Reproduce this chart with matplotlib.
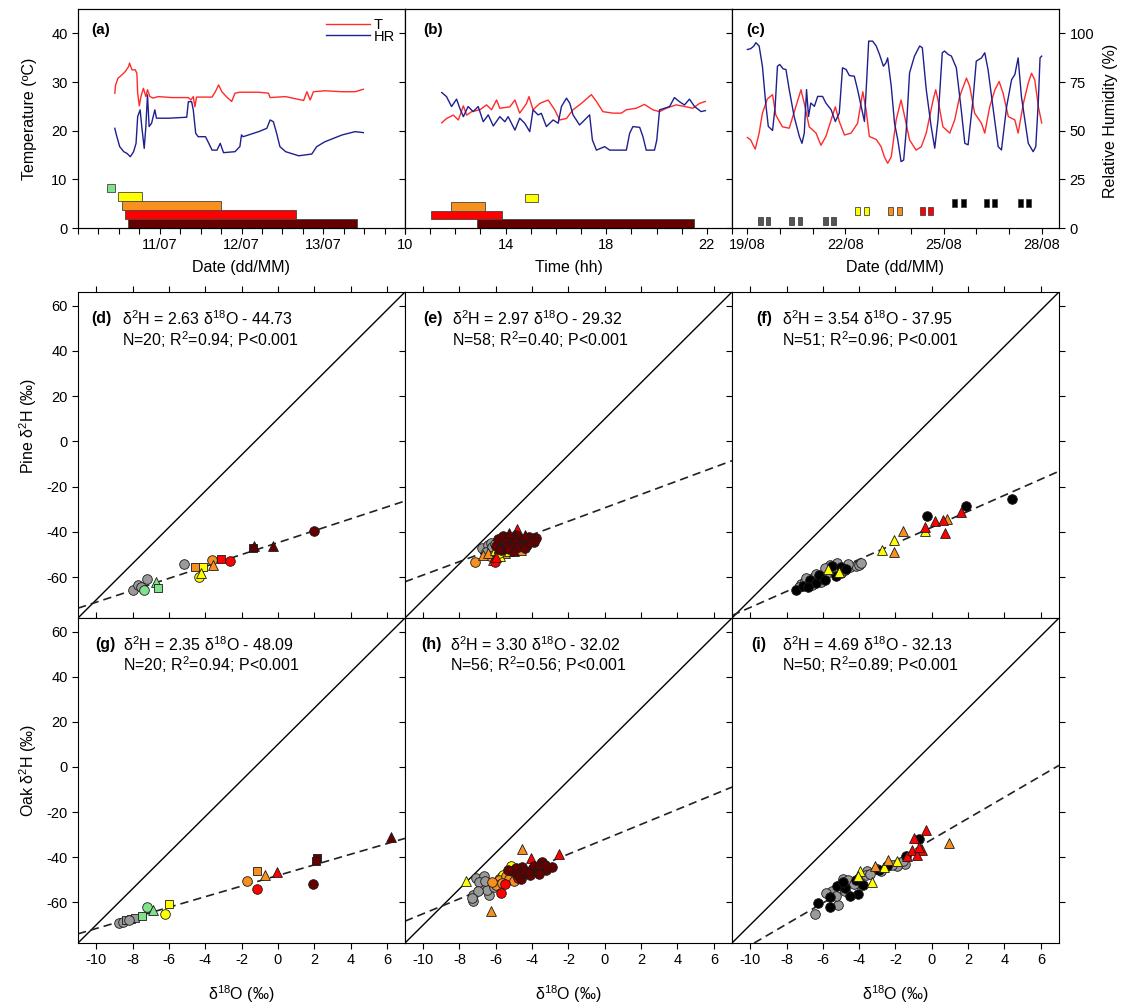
import numpy as np
import matplotlib
matplotlib.use("Agg")
import matplotlib.pyplot as plt
from matplotlib.lines import Line2D
from matplotlib.ticker import FixedLocator, MultipleLocator

plt.rcParams['font.family'] = ['Liberation Sans', 'DejaVu Sans']
plt.rcParams['mathtext.fontset'] = 'custom'
plt.rcParams['mathtext.rm'] = 'Liberation Sans'
plt.rcParams['mathtext.it'] = 'Liberation Sans:italic'
plt.rcParams['mathtext.bf'] = 'Liberation Sans:bold'
plt.rcParams['axes.linewidth'] = 0.8
plt.rcParams['axes.unicode_minus'] = False

# ---------------- (a) July campaign: day of month ----------------
a_t_day = [10.45, 10.46, 10.49, 10.54, 10.58, 10.62, 10.63, 10.66, 10.70, 10.72,
           10.73, 10.75, 10.77, 10.80, 10.83, 10.85, 10.88, 10.92, 10.98, 11.15,
           11.35, 11.38, 11.41, 11.43, 11.45, 11.64, 11.68, 11.72, 11.76, 11.82,
           11.88, 11.92, 11.98, 12.21, 12.33, 12.35, 12.54, 12.62, 12.76, 12.80,
           12.84, 12.88, 13.02, 13.23, 13.39, 13.49]
a_t_val = [27.7, 29.4, 30.8, 31.5, 32.2, 33.2, 33.9, 32.5, 32.5, 31.8,
           27.7, 25.1, 27.0, 28.7, 27.0, 28.4, 27.0, 26.7, 27.0, 26.8,
           26.8, 26.3, 27.0, 24.9, 26.9, 26.9, 28.0, 29.4, 28.0, 26.9,
           26.0, 27.7, 27.9, 27.9, 27.7, 26.8, 27.0, 26.7, 26.2, 28.0,
           26.3, 28.0, 28.2, 28.0, 28.0, 28.5]
a_hr_day = [10.45, 10.47, 10.51, 10.56, 10.60, 10.64, 10.68, 10.71, 10.73, 10.76,
            10.78, 10.81, 10.83, 10.85, 10.87, 10.90, 10.94, 10.96, 11.11, 11.33,
            11.35, 11.39, 11.41, 11.44, 11.47, 11.56, 11.60, 11.64, 11.70, 11.74,
            11.78, 11.92, 11.98, 12.00, 12.02, 12.21, 12.31, 12.35, 12.39, 12.43,
            12.47, 12.54, 12.70, 12.86, 12.92, 13.02, 13.23, 13.39, 13.49]
a_hr_val = [51.2, 47.8, 41.8, 39.2, 38.3, 36.6, 39.2, 43.5, 57.2, 60.7,
            52.1, 40.9, 52.1, 68.4, 52.1, 53.8, 60.7, 56.4, 56.4, 56.9,
            64.9, 64.9, 60.7, 48.6, 46.9, 46.9, 43.5, 40.0, 40.0, 43.5,
            38.7, 39.2, 41.8, 47.8, 46.9, 49.5, 51.2, 55.5, 54.6, 48.6,
            41.8, 39.2, 37.1, 38.0, 41.8, 44.3, 47.8, 49.5, 49.0]
a_bar_start = [10.61, 10.58, 10.54, 10.49, 10.35]
a_bar_end = [13.41, 12.67, 11.75, 10.78, 10.45]
a_bar_grp = ['darkred', 'red', 'orange', 'yellow', 'green']

# ---------------- (b) daily cycle: hour ----------------
b_t_hour = [11.46, 11.65, 11.92, 12.12, 12.32, 12.45, 12.65, 12.98, 13.24, 13.44,
            13.64, 13.77, 14.17, 14.37, 14.56, 14.83, 14.93, 15.09, 15.36, 15.69,
            15.95, 16.15, 16.42, 16.68, 17.01, 17.41, 17.61, 17.87, 18.27, 18.60,
            18.80, 19.19, 19.52, 19.85, 20.12, 20.38, 20.78, 21.18, 21.44, 21.71,
            21.94]
b_t_val = [21.6, 22.5, 23.2, 22.2, 25.1, 23.2, 23.9, 24.3, 25.3, 24.3,
           26.3, 24.6, 24.9, 26.3, 23.6, 25.6, 27.0, 24.3, 25.6, 26.3,
           24.3, 22.2, 22.5, 24.3, 25.6, 27.4, 26.0, 23.9, 23.6, 23.6,
           24.3, 24.6, 25.4, 24.3, 23.9, 24.6, 25.3, 24.9, 24.6, 25.6,
           26.0]
b_hr_hour = [11.46, 11.65, 11.85, 12.05, 12.18, 12.32, 12.51, 12.71, 12.91, 13.11,
             13.31, 13.51, 13.77, 13.97, 14.10, 14.37, 14.56, 14.76, 14.96, 15.09,
             15.29, 15.42, 15.62, 15.89, 16.09, 16.22, 16.42, 16.55, 16.68, 16.94,
             17.14, 17.34, 17.45, 17.61, 17.94, 18.14, 18.80, 18.93, 19.06, 19.33,
             19.46, 19.59, 19.92, 20.01, 20.12, 20.32, 20.52, 20.71, 20.91, 21.11,
             21.31, 21.51, 21.77, 21.94]
b_hr_val = [69.6, 67.5, 62.4, 66.2, 61.5, 57.2, 62.4, 59.8, 62.4, 54.6,
            58.1, 52.4, 57.2, 54.6, 57.2, 50.3, 56.4, 53.8, 49.5, 60.7,
            58.1, 58.9, 52.1, 55.5, 53.8, 62.4, 66.7, 64.1, 58.1, 52.9,
            55.5, 58.1, 45.2, 40.0, 41.8, 40.0, 40.0, 48.6, 52.1, 51.7,
            46.9, 40.0, 40.0, 45.2, 60.7, 61.5, 62.4, 67.0, 64.9, 63.2,
            66.2, 62.4, 59.8, 60.3]
b_bar_start = [12.85, 11.02, 11.83, 14.76]
b_bar_end = [21.48, 13.86, 13.17, 15.29]
b_bar_grp = ['darkred', 'red', 'orange', 'yellow']

# ---------------- (c) August campaign: day of month ----------------
c_t_day = [19.00, 19.10, 19.24, 19.36, 19.46, 19.61, 19.77, 19.87, 20.07, 20.28,
           20.48, 20.64, 20.74, 20.89, 21.10, 21.25, 21.40, 21.56, 21.69, 21.81,
           21.97, 22.17, 22.37, 22.53, 22.63, 22.73, 22.94, 23.09, 23.19, 23.29,
           23.40, 23.55, 23.70, 23.81, 23.96, 24.16, 24.32, 24.47, 24.68, 24.76,
           24.83, 24.98, 25.19, 25.34, 25.49, 25.70, 25.80, 25.95, 26.16, 26.26,
           26.41, 26.57, 26.70, 26.82, 26.98, 27.18, 27.28, 27.44, 27.59, 27.69,
           27.79, 27.90, 28.00]
c_t_val = [18.6, 18.1, 16.2, 19.5, 23.6, 26.5, 27.4, 23.2, 20.8, 20.5,
           24.9, 28.4, 25.6, 20.8, 19.5, 17.0, 18.8, 22.2, 24.9, 21.9,
           19.1, 19.5, 21.5, 28.0, 24.3, 18.8, 18.2, 16.7, 14.6, 13.3,
           14.6, 22.2, 26.3, 22.9, 18.1, 16.0, 16.7, 19.5, 26.3, 28.4,
           26.3, 20.8, 19.5, 22.2, 27.0, 30.8, 29.1, 23.6, 21.5, 19.5,
           24.9, 28.4, 30.1, 27.7, 22.9, 22.2, 19.5, 25.6, 29.8, 31.8,
           30.4, 24.9, 21.6]
c_hr_day = [19.00, 19.10, 19.20, 19.26, 19.36, 19.46, 19.56, 19.64, 19.77, 19.85,
            19.92, 19.99, 20.09, 20.18, 20.28, 20.43, 20.59, 20.67, 20.74, 20.81,
            20.87, 20.94, 21.05, 21.15, 21.30, 21.40, 21.56, 21.69, 21.81, 21.91,
            22.02, 22.12, 22.27, 22.37, 22.48, 22.58, 22.65, 22.71, 22.83, 22.94,
            23.04, 23.16, 23.24, 23.29, 23.40, 23.50, 23.60, 23.70, 23.78, 23.86,
            23.96, 24.11, 24.27, 24.35, 24.47, 24.62, 24.73, 24.83, 24.96, 25.03,
            25.14, 25.24, 25.39, 25.54, 25.65, 25.75, 25.90, 26.00, 26.16, 26.26,
            26.36, 26.52, 26.67, 26.77, 26.93, 27.08, 27.18, 27.28, 27.38, 27.59,
            27.74, 27.82, 27.90, 27.95, 28.00]
c_hr_val = [91.7, 92.1, 93.5, 95.2, 93.5, 83.1, 64.2, 52.2, 50.1, 62.5,
            83.1, 84.0, 81.8, 81.4, 71.1, 57.3, 47.0, 43.5, 48.7, 71.1,
            57.3, 64.2, 62.5, 67.6, 67.6, 64.2, 60.8, 54.7, 59.0, 82.3,
            81.4, 78.3, 78.0, 71.1, 62.5, 54.7, 76.2, 96.0, 96.0, 93.5,
            89.2, 83.1, 84.9, 87.4, 72.8, 53.9, 45.3, 34.1, 34.9, 50.4,
            79.7, 88.3, 93.5, 92.6, 71.1, 52.2, 41.0, 55.6, 90.0, 90.9,
            89.2, 88.3, 82.3, 60.8, 43.5, 42.7, 65.9, 85.7, 87.4, 90.0,
            81.4, 60.8, 41.8, 40.1, 62.5, 76.2, 78.8, 87.4, 67.6, 43.5,
            39.2, 41.8, 65.9, 87.4, 88.3]
c_sq_day = [19.39, 19.63, 20.36, 20.61, 21.40, 21.63, 22.37, 22.63, 23.38, 23.65,
            24.35, 24.59, 25.34, 25.60, 26.31, 26.57, 27.35, 27.59]
c_sq_grp = ['dkgrey'] * 6 + ['yellow'] * 2 + ['orange'] * 2 + ['red'] * 2 + ['black'] * 6

# ---------------- regressions ----------------
panel_tag = ['(d)', '(e)', '(f)', '(g)', '(h)', '(i)']
fit_slope = [2.63, 2.97, 3.54, 2.35, 3.30, 4.69]
fit_icpt = [-44.73, -29.32, -37.95, -48.09, -32.02, -32.13]
fit_n = [20, 58, 51, 20, 56, 50]
fit_r2 = ['0.94', '0.40', '0.96', '0.94', '0.56', '0.89']
gmwl_slope = 8
gmwl_icpt = 10

# ---------------- (d) pine, July ----------------
d_x = [-7.95, -7.71, -7.53, -7.22, -5.15, -7.34, -6.70, -6.58, -4.54, -4.10,
       -4.32, -4.23, -3.63, -3.55, -3.13, -2.64, -1.36, -1.30, -0.29, 2.00]
d_y = [-65.8, -63.3, -64.4, -60.7, -54.1, -65.6, -62.2, -64.7, -55.3, -55.6,
       -59.7, -58.2, -52.6, -54.8, -51.9, -52.9, -47.2, -46.0, -46.0, -39.4]
d_grp = ['grey'] * 5 + ['green'] * 3 + ['orange', 'yellow', 'yellow', 'yellow',
                                          'orange', 'orange', 'red', 'red',
                                          'darkred', 'darkred', 'darkred', 'darkred']
d_shape = ['circle'] * 5 + ['circle', 'triangle', 'square', 'square', 'square',
                            'circle', 'triangle', 'circle', 'triangle', 'square',
                            'circle', 'square', 'triangle', 'triangle', 'circle']

# ---------------- (e) pine, daily ----------------
e_x = [-6.75, -6.45, -6.25, -6.55, -6.20, -6.05,
       -7.14, -6.30, -5.80, -5.20, -4.95,
       -6.70, -6.15, -5.50, -5.05, -4.60, -5.90, -6.45,
       -6.05, -5.60, -5.30, -5.75,
       -5.80, -5.45,
       -6.05, -5.70, -5.20, -4.90, -5.45,
       -6.00, -5.60, -4.86, -4.50, -5.30,
       -6.00, -5.70, -5.40, -5.10, -4.80, -4.50, -4.30, -4.00, -3.80, -5.90,
       -5.30, -4.70, -4.20, -5.60, -4.90, -4.40, -3.90,
       -5.50, -4.95, -4.40, -5.80, -5.00, -4.10, -5.25]
e_y = [-47.0, -45.8, -44.8, -48.8, -46.8, -45.5,
       -53.4, -50.5, -48.3, -47.5, -45.2,
       -50.2, -52.3, -49.5, -46.0, -48.0, -44.5, -49.5,
       -47.8, -46.5, -48.5, -50.5,
       -49.2, -44.2,
       -53.4, -45.0, -43.5, -45.5, -47.2,
       -51.0, -43.0, -38.7, -44.0, -41.8,
       -46.0, -48.0, -45.5, -44.0, -46.5, -44.5, -45.8, -43.0, -42.8, -43.0,
       -47.5, -42.5, -42.0, -41.8, -41.2, -47.0, -44.5,
       -42.0, -42.5, -41.5, -47.0, -48.5, -44.0, -40.5]
e_grp = (['grey'] * 6 + ['orange'] * 5 + ['orange'] * 7 + ['yellow'] * 4 + ['yellow'] * 2
         + ['red'] * 5 + ['red'] * 5 + ['darkred'] * 17 + ['darkred'] * 7)
e_shape = (['circle'] * 6 + ['circle'] * 5 + ['triangle'] * 7 + ['triangle'] * 4 + ['circle'] * 2
           + ['circle'] * 5 + ['triangle'] * 5 + ['circle'] * 17 + ['triangle'] * 7)

# ---------------- (f) pine, August ----------------
f_x = [-7.20, -7.00, -6.80, -6.50, -6.30, -6.00, -5.80, -5.50, -5.30, -5.00,
       -4.80, -4.50, -4.20, -4.00, -3.90, -6.90, -6.10, -5.60, -5.90, -6.60,
       -5.20, -4.60, -6.40, -7.30,
       -7.49, -7.10, -6.70, -6.40, -6.20, -5.90, -5.50, -5.30, -5.00, -4.70, -6.80,
       -5.74, -5.10, -2.72, -2.07, -0.37,
       -2.07, -1.61, 0.86,
       -0.37, 0.18, 0.59, 0.73, 1.60,
       -0.24, 1.87, 4.44]
f_y = [-63.0, -61.5, -62.5, -60.0, -61.0, -59.5, -58.5, -57.0, -56.0, -58.0,
       -57.0, -55.5, -55.0, -54.5, -53.5, -60.5, -62.0, -54.5, -56.0, -63.5,
       -53.8, -54.0, -58.5, -64.5,
       -65.6, -64.0, -61.0, -62.5, -59.0, -61.0, -55.0, -59.5, -55.5, -56.5, -64.5,
       -56.3, -57.8, -47.9, -43.5, -39.4,
       -49.0, -39.7, -34.3,
       -37.7, -35.3, -34.7, -40.6, -31.3,
       -32.8, -28.4, -25.5]
f_grp = ['grey'] * 24 + ['black'] * 11 + ['yellow'] * 5 + ['orange'] * 3 + ['red'] * 5 + ['black'] * 3
f_shape = ['circle'] * 35 + ['triangle'] * 13 + ['circle'] * 3

# ---------------- (g) oak, July ----------------
g_x = [-8.75, -8.55, -8.35, -8.08, -7.84, -8.20, -7.47, -7.22, -6.85, -6.19,
       -5.97, -1.67, -1.16, -0.70, -1.12, -0.02, 2.14, 2.09, 1.96, 6.21]
g_y = [-69.2, -68.5, -68.0, -67.4, -66.9, -67.8, -66.2, -62.2, -63.2, -65.0,
       -60.6, -50.7, -46.3, -47.7, -54.1, -46.6, -40.4, -41.8, -51.7, -31.2]
g_grp = ['grey'] * 6 + ['green'] * 3 + ['yellow'] * 2 + ['orange'] * 3 + ['red'] * 2 + ['darkred'] * 4
g_shape = ['circle', 'circle', 'square', 'square', 'square', 'circle',
           'square', 'circle', 'triangle', 'circle', 'square',
           'circle', 'square', 'triangle', 'circle', 'triangle',
           'square', 'square', 'circle', 'triangle']

# ---------------- (h) oak, daily ----------------
h_x = [-7.10, -6.65, -7.25, -7.25, -6.37, -6.83, -6.28, -6.90, -6.50, -6.10, -7.00, -6.60, -7.30,
       -7.66, -5.46, -5.90,
       -5.18, -5.60,
       -6.28, -4.54, -5.70, -5.20, -6.00,
       -5.82, -5.46, -4.91, -6.00, -5.30, -5.00, -5.65, -4.70, -6.20,
       -5.73, -5.50, -4.80,
       -4.08, -2.53,
       -4.54, -4.27, -3.81, -3.44, -2.93, -3.26, -4.73, -4.10, -3.90, -4.40,
       -5.10, -3.60, -4.90, -5.35, -4.60, -3.30,
       -4.20, -3.70, -4.80]
h_y = [-49.2, -48.5, -56.6, -59.6, -56.6, -53.7, -51.4, -51.0, -54.5, -53.0, -55.0, -50.5, -58.0,
       -50.7, -46.3, -49.0,
       -43.8, -47.8,
       -64.0, -36.4, -50.8, -48.0, -50.0,
       -50.0, -48.5, -47.7, -52.2, -49.5, -50.5, -51.5, -46.5, -50.8,
       -55.9, -52.0, -49.0,
       -40.4, -38.4,
       -44.4, -47.0, -46.3, -42.3, -44.5, -45.6, -48.5, -48.0, -44.0, -46.0,
       -46.0, -47.5, -44.8, -45.5, -49.5, -43.5,
       -45.5, -43.0, -47.0]
h_grp = (['grey'] * 13 + ['yellow'] * 3 + ['yellow'] * 2 + ['orange'] * 5 + ['orange'] * 9
         + ['red'] * 3 + ['red'] * 2 + ['darkred'] * 16 + ['darkred'] * 3)
h_shape = (['circle'] * 13 + ['triangle'] * 3 + ['circle'] * 2 + ['triangle'] * 5 + ['circle'] * 9
           + ['circle'] * 3 + ['triangle'] * 2 + ['circle'] * 16 + ['triangle'] * 3)

# ---------------- (i) oak, August ----------------
i_x = [-6.44, -5.15, -5.52, -4.88, -4.14, -3.59, -1.47, -1.93, -5.80, -5.00,
       -4.60, -4.30, -4.00, -3.60, -3.00, -2.80, -2.20, -1.60, -4.80, -5.30, -3.40,
       -6.26, -5.61, -5.24, -4.78, -4.05, -4.51, -2.48, -0.73, -4.20, -3.80,
       -5.60, -4.90, -2.90, -1.40,
       -3.95, -4.05, -3.31, -2.66, -1.93,
       -3.12, -2.39, 0.93,
       -1.00, -0.30, -1.37, -1.10, -0.54, -0.82, -0.70]
i_y = [-65.0, -61.0, -54.8, -49.7, -51.4, -46.3, -42.9, -44.1, -56.0, -52.0,
       -50.0, -52.0, -49.0, -48.0, -45.0, -46.0, -43.5, -41.5, -55.0, -57.0, -47.5,
       -60.3, -62.1, -52.6, -53.7, -56.2, -57.3, -44.1, -32.0, -50.0, -52.5,
       -57.5, -51.0, -45.5, -39.5,
       -46.3, -48.5, -51.1, -44.4, -41.8,
       -43.8, -41.2, -33.7,
       -31.5, -27.8, -39.6, -36.7, -36.7, -38.9, -35.5]
i_grp = ['grey'] * 21 + ['black'] * 14 + ['yellow'] * 5 + ['orange'] * 3 + ['red'] * 7
i_shape = ['circle'] * 35 + ['triangle'] * 15

# ---------------- styles ----------------
palette = {'grey': '#9a9a9a', 'dkgrey': '#555555', 'green': '#80e38c', 'yellow': '#ffff00',
           'orange': '#f7901e', 'red': '#ff0000', 'darkred': '#640000', 'black': '#000000'}
shapes = {'circle': 'o', 'square': 's', 'triangle': '^'}
marker_size = {'circle': 48, 'square': 40, 'triangle': 50}
t_color = '#ff2a2a'
hr_color = '#1f1f8f'

W, H = 1121, 1008


def box(x0, y0, x1, y1):
    return [x0 / W, 1 - y1 / H, (x1 - x0) / W, (y1 - y0) / H]


def ticks(ax, **kw):
    ax.tick_params(which='both', direction='out', length=4, width=0.8, labelsize=10.5, **kw)


fig = plt.figure(figsize=(11.21, 10.08), dpi=100)
cols = [78, 405, 732, 1059]

# ---------------- top row ----------------
top_axes = []
for k in range(3):
    ax = fig.add_axes(box(cols[k], 9, cols[k + 1], 228))
    ax2 = ax.twinx()
    ax.set_ylim(0, 45)
    ax2.set_ylim(0, 112.5)
    ax.yaxis.set_major_locator(FixedLocator([0, 10, 20, 30, 40]))
    ax2.yaxis.set_major_locator(FixedLocator([0, 25, 50, 75, 100]))
    ticks(ax)
    ticks(ax2)
    if k > 0:
        ax.tick_params(labelleft=False)
    if k < 2:
        ax2.tick_params(labelright=False)
    top_axes.append((ax, ax2))

bar_h = 1.87

# (a)
ax, ax2 = top_axes[0]
ax.set_xlim(10, 14)
ax.set_xticks([11, 12, 13], ['11/07', '12/07', '13/07'])
ax.xaxis.set_minor_locator(MultipleLocator(0.25))
row_a = {'darkred': 0, 'red': 1, 'orange': 2, 'yellow': 3, 'green': 3.92}
for s, e, g in zip(a_bar_start, a_bar_end, a_bar_grp):
    ax.bar(s, bar_h if g != 'green' else 1.8, width=e - s, bottom=row_a[g] * bar_h, align='edge',
           color=palette[g], edgecolor='#444444', linewidth=0.6, zorder=2)
ax.plot(a_t_day, a_t_val, color=t_color, lw=1.0)
ax2.plot(a_hr_day, a_hr_val, color=hr_color, lw=1.0)
ax.set_ylabel('Temperature (ºC)', fontsize=11.5)
ax.yaxis.set_label_coords(-0.125, 0.5)
ax.set_xlabel('Date (dd/MM)', fontsize=11.5)
ax.xaxis.set_label_coords(0.5, -0.145)
ax.text(0.04, 0.905, '(a)', transform=ax.transAxes, fontsize=11, fontweight='bold', va='center')
handles = [Line2D([], [], color=t_color, lw=1.0), Line2D([], [], color=hr_color, lw=1.0)]
ax2.legend(handles, ['T', 'HR'], loc='upper right', frameon=False, fontsize=10.5,
           handlelength=3.0, handletextpad=0.3, labelspacing=-0.15,
           bbox_to_anchor=(1.01, 1.02))

# (b)
ax, ax2 = top_axes[1]
ax.set_xlim(10, 23)
ax.set_xticks([10, 14, 18, 22], ['10', '14', '18', '22'])
ax.xaxis.set_minor_locator(MultipleLocator(1))
row_b = {'darkred': 0, 'red': 1, 'orange': 2, 'yellow': 3}
bh_b = 1.76
for s, e, g in zip(b_bar_start, b_bar_end, b_bar_grp):
    ax.bar(s, bh_b, width=e - s, bottom=row_b[g] * bh_b, align='edge',
           color=palette[g], edgecolor='#444444', linewidth=0.6, zorder=2)
ax.plot(b_t_hour, b_t_val, color=t_color, lw=1.0)
ax2.plot(b_hr_hour, b_hr_val, color=hr_color, lw=1.0)
ax.set_xlabel('Time (hh)', fontsize=11.5)
ax.xaxis.set_label_coords(0.5, -0.145)
ax.text(0.055, 0.905, '(b)', transform=ax.transAxes, fontsize=11, fontweight='bold', va='center')

# (c)
ax, ax2 = top_axes[2]
ax.set_xlim(18.53, 28.53)
ax.set_xticks([19, 22, 25, 28], ['19/08', '22/08', '25/08', '28/08'])
ax.xaxis.set_minor_locator(MultipleLocator(1))
row_c = {'dkgrey': 0.55, 'yellow': 2.6, 'orange': 2.6, 'red': 2.6, 'black': 4.33}
ax.bar(c_sq_day, 1.72, width=0.15, bottom=[row_c[g] for g in c_sq_grp],
       color=[palette[g] for g in c_sq_grp], edgecolor='#444444', linewidth=0.6, zorder=2)
ax.plot(c_t_day, c_t_val, color=t_color, lw=1.0)
ax2.plot(c_hr_day, c_hr_val, color=hr_color, lw=1.0)
ax.set_xlabel('Date (dd/MM)', fontsize=11.5)
ax.xaxis.set_label_coords(0.5, -0.145)
ax2.set_ylabel('Relative Humidity (%)', fontsize=11.5)
ax2.yaxis.set_label_coords(1.135, 0.49)
ax.text(0.045, 0.905, '(c)', transform=ax.transAxes, fontsize=11, fontweight='bold', va='center')

# ---------------- scatter panels ----------------
sc_data = [(d_x, d_y, d_grp, d_shape), (e_x, e_y, e_grp, e_shape), (f_x, f_y, f_grp, f_shape),
           (g_x, g_y, g_grp, g_shape), (h_x, h_y, h_grp, h_shape), (i_x, i_y, i_grp, i_shape)]
tag_x = [0.042, 0.056, 0.075, 0.052, 0.051, 0.060]
eq_x = [0.134, 0.143, 0.152, 0.139, 0.138, 0.152]
rows = [(292, 618), (618, 943)]

for n in range(6):
    r, c = divmod(n, 3)
    ax = fig.add_axes(box(cols[c], rows[r][0], cols[c + 1], rows[r][1]))
    ax.set_xlim(-11, 7)
    ax.set_ylim(-78, 66)
    ax.xaxis.set_major_locator(FixedLocator(list(range(-10, 7, 2))))
    ax.yaxis.set_major_locator(FixedLocator(list(range(-60, 61, 20))))
    ticks(ax, top=True, right=True)
    ax.tick_params(labelleft=(c == 0), labelbottom=(r == 1))

    ax.axline((0, gmwl_icpt), slope=gmwl_slope, color='black', lw=1.0, zorder=1)
    ax.axline((0, fit_icpt[n]), slope=fit_slope[n], color='#222222', lw=1.2,
              dashes=(5, 3), zorder=1)

    xs, ys, gs, ss = sc_data[n]
    for x, y, g, s in zip(xs, ys, gs, ss):
        ax.scatter(x, y, s=marker_size[s], marker=shapes[s], c=palette[g],
                   edgecolors='#1a1a1a', linewidths=0.6, zorder=3)

    ax.text(tag_x[n], 0.918, panel_tag[n], transform=ax.transAxes, fontsize=11.5,
            fontweight='bold', va='center')
    ax.text(eq_x[n], 0.918,
            'δ$^{2}$H = %.2f δ$^{18}$O - %.2f' % (fit_slope[n], -fit_icpt[n]),
            transform=ax.transAxes, fontsize=11.5, va='center')
    ax.text(eq_x[n], 0.855, 'N=%d; R$^{2}$=%s; P<0.001' % (fit_n[n], fit_r2[n]),
            transform=ax.transAxes, fontsize=11.5, va='center')

    if c == 0:
        ax.set_ylabel(('Pine' if r == 0 else 'Oak') + ' δ$^{2}$H (‰)', fontsize=11.5)
        ax.yaxis.set_label_coords(-0.12, 0.59 if r == 0 else 0.53)
    if r == 1:
        ax.set_xlabel('δ$^{18}$O (‰)', fontsize=11.5)
        ax.xaxis.set_label_coords(0.5, -0.125)

fig.savefig('out.png', dpi=100)
